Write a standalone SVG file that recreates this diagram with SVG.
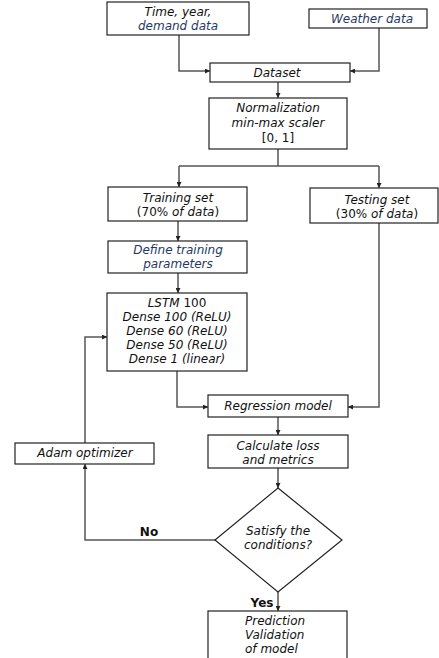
<svg xmlns="http://www.w3.org/2000/svg" width="439" height="658" viewBox="0 0 439 658">
<defs>
<marker id="ah" viewBox="0 0 10 10" refX="10" refY="5" markerWidth="5" markerHeight="5" markerUnits="userSpaceOnUse" orient="auto">
<path d="M0,0 L10,5 L0,10 z" fill="#222"/>
</marker>
<style>
.box{fill:#fff;stroke:#222;stroke-width:1.2}
.t{font-family:"DejaVu Sans",Verdana,sans-serif;font-size:12px;font-style:italic;fill:#111;text-anchor:middle}
.u{font-style:normal}
.blue{fill:#1f3864}
.b{font-family:"DejaVu Sans",Verdana,sans-serif;font-size:12px;font-weight:bold;fill:#111;text-anchor:middle}
.c{fill:none;stroke:#555;stroke-width:1.5}
.a{marker-end:url(#ah)}
</style>
</defs>
<rect width="439" height="658" fill="#fff"/>
<g id="connectors">
<path class="c a" d="M179,35 V71 H210"/>
<path class="c a" d="M379,28 V71 H350"/>
<path class="c a" d="M278,82 V98"/>
<path class="c" d="M278,149 V166 M179,166 H379"/>
<path class="c a" d="M179,166 V187"/>
<path class="c a" d="M379,166 V188"/>
<path class="c a" d="M178,221 V241"/>
<path class="c a" d="M178,273 V293"/>
<path class="c a" d="M177,371 V407 H208"/>
<path class="c a" d="M379,223 V407 H348"/>
<path class="c a" d="M278,417 V435"/>
<path class="c a" d="M278,468 V488"/>
<path class="c a" d="M215,540 H85 V464"/>
<path class="c a" d="M85,443 V337 H107"/>
<path class="c a" d="M278,592 V611"/>
</g>
<g id="n-time">
<rect class="box" x="107" y="2" width="142" height="33"/>
<text class="t" x="178" y="16">Time, year,</text>
<text class="t blue" x="178" y="30">demand data</text>
</g>
<g id="n-weather">
<rect class="box" x="309" y="9" width="118" height="19"/>
<text class="t blue" x="372" y="23">Weather data</text>
</g>
<g id="n-dataset">
<rect class="box" x="210" y="63" width="140" height="19"/>
<text class="t" x="277" y="77">Dataset</text>
</g>
<g id="n-norm">
<rect class="box" x="209" y="98" width="138" height="51"/>
<text class="t" x="278" y="112">Normalization</text>
<text class="t" x="278" y="127">min-max scaler</text>
<text class="t u" x="278" y="142">[0, 1]</text>
</g>
<g id="n-training">
<rect class="box" x="108" y="187" width="139" height="34"/>
<text class="t" x="178" y="202">Training set</text>
<text class="t" x="178" y="216"><tspan class="u">(70% </tspan>of data<tspan class="u">)</tspan></text>
</g>
<g id="n-testing">
<rect class="box" x="310" y="188" width="128" height="35"/>
<text class="t" x="377" y="204">Testing set</text>
<text class="t" x="377" y="218"><tspan class="u">(30% </tspan>of data<tspan class="u">)</tspan></text>
</g>
<g id="n-define">
<rect class="box" x="108" y="241" width="139" height="32"/>
<text class="t blue" x="178" y="254">Define training</text>
<text class="t blue" x="178" y="268">parameters</text>
</g>
<g id="n-lstm">
<rect class="box" x="107" y="293" width="140" height="78"/>
<text class="t" x="177" y="307">LSTM <tspan class="u">100</tspan></text>
<text class="t" x="177" y="321">Dense 100 (ReLU)</text>
<text class="t" x="177" y="335">Dense 60 (ReLU)</text>
<text class="t" x="177" y="349">Dense 50 (ReLU)</text>
<text class="t" x="177" y="363">Dense 1 (linear)</text>
</g>
<g id="n-regression">
<rect class="box" x="208" y="395" width="140" height="22"/>
<text class="t" x="278" y="410">Regression model</text>
</g>
<g id="n-calc">
<rect class="box" x="208" y="435" width="140" height="33"/>
<text class="t" x="278" y="450">Calculate loss</text>
<text class="t" x="278" y="464">and metrics</text>
</g>
<g id="n-adam">
<rect class="box" x="15" y="443" width="139" height="21"/>
<text class="t" x="85" y="457">Adam optimizer</text>
</g>
<g id="n-decision">
<polygon class="box" points="278,488 342,540 278,592 215,540"/>
<text class="t" x="278" y="535">Satisfy the</text>
<text class="t" x="278" y="549">conditions?</text>
</g>
<text class="b" x="149" y="536">No</text>
<text class="b" x="262" y="607">Yes</text>
<g id="n-prediction">
<rect class="box" x="208" y="611" width="139" height="60"/>
<text class="t" x="245" y="625" style="text-anchor:start">Prediction</text>
<text class="t" x="245" y="639" style="text-anchor:start">Validation</text>
<text class="t" x="245" y="653" style="text-anchor:start">of model</text>
</g>
</svg>
